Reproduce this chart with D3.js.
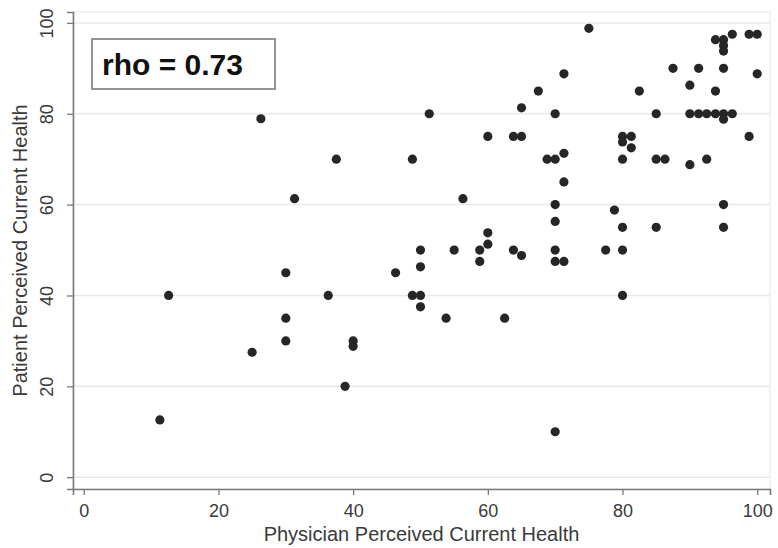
<!DOCTYPE html>
<html>
<head>
<meta charset="utf-8">
<script src="https://cdn.jsdelivr.net/npm/d3@7"></script>
<style>
  html, body { margin: 0; padding: 0; background: #fff; }
  svg { display: block; font-family: "Liberation Sans", Arial, Helvetica, sans-serif; }
</style>
</head>
<body>
<svg id="chart" width="778" height="548"></svg>
<script>
// Physician perceived current health (x) and patient perceived current health (y)
const physician = [
  11.3, 12.6, 25, 26.3, 30, 30, 30, 31.3, 36.3, 37.5,
  38.8, 40, 40, 46.3, 48.8, 48.8, 50, 50, 50, 50,
  51.3, 53.8, 55, 56.3, 58.8, 58.8, 60, 60, 60, 62.5,
  63.8, 65, 65, 63.8, 65, 67.5, 68.8, 70, 70, 71.3,
  71.3, 71.3, 70, 70, 70, 70, 71.3, 70, 75, 77.5,
  78.8, 80, 81.3, 80, 81.3, 80, 80, 80, 80, 82.5,
  85, 85, 86.3, 85, 87.5, 90, 90, 90, 91.3, 91.3,
  92.5, 92.5, 93.8, 93.8, 93.8, 95, 95, 95, 95, 95,
  95, 95, 95, 96.3, 96.3, 98.8, 100, 100, 98.8
];
const patient = [
  12.6, 40, 27.5, 78.9, 45, 35, 30, 61.3, 40, 70,
  20, 30, 28.8, 45, 70, 40, 40, 37.5, 46.3, 50,
  80, 35, 50, 61.3, 50, 47.5, 51.3, 53.8, 75, 35,
  75, 75, 81.3, 50, 48.8, 85, 70, 70, 80, 71.3,
  65, 88.8, 60, 56.3, 50, 47.5, 47.5, 10, 98.8, 50,
  58.8, 75, 75, 73.8, 72.5, 70, 55, 50, 40, 85,
  80, 70, 70, 55, 90, 86.3, 80, 68.8, 80, 90,
  80, 70, 85, 80, 96.3, 96.3, 95, 93.8, 90, 80,
  78.8, 60, 55, 97.5, 80, 97.5, 97.5, 88.8, 75
];
const xTicks = [0, 20, 40, 60, 80, 100];
const yTicks = [0, 20, 40, 60, 80, 100];
const xTitle = "Physician Perceived Current Health";
const yTitle = "Patient Perceived Current Health";
const rhoLabel = "rho = 0.73";

const points = physician.map((x, i) => ({ x, y: patient[i] }));

const svg = d3.select("#chart");
const plot = { left: 73, right: 770, top: 12, bottom: 489 };

const x = d3.scaleLinear().domain([-1.6, 101.9]).range([plot.left, plot.right]);
const y = d3.scaleLinear().domain([-2.6, 102.4]).range([plot.bottom, plot.top]);

// light frame of plot region
svg.append("rect")
  .attr("x", plot.left).attr("y", plot.top)
  .attr("width", plot.right - plot.left).attr("height", plot.bottom - plot.top)
  .attr("fill", "none").attr("stroke", "#eeeeee").attr("stroke-width", 1.5);

// horizontal grid
svg.append("g").selectAll("line").data(yTicks).join("line")
  .attr("x1", plot.left).attr("x2", plot.right)
  .attr("y1", d => y(d)).attr("y2", d => y(d))
  .attr("stroke", "#e9e9e9").attr("stroke-width", 1.5);

// axes
const xAxis = svg.append("g")
  .attr("transform", `translate(0,${plot.bottom})`)
  .call(d3.axisBottom(x).tickValues(xTicks).tickSizeOuter(0).tickSize(6).tickPadding(9).tickFormat(d3.format("d")));
const yAxis = svg.append("g")
  .attr("transform", `translate(${plot.left},0)`)
  .call(d3.axisLeft(y).tickValues(yTicks).tickSizeOuter(0).tickSize(6).tickPadding(0).tickFormat(d3.format("d")));

[xAxis, yAxis].forEach(g => {
  g.select(".domain").attr("stroke", "#7a7a7a").attr("stroke-width", 1.6);
  g.selectAll(".tick line").attr("stroke", "#7a7a7a").attr("stroke-width", 1.3);
  g.selectAll(".tick text").attr("fill", "#3a3a3a")
    .style("font-size", "18px").style("font-family", "'Liberation Sans', Arial, sans-serif");
});
xAxis.selectAll(".tick text").attr("dy", "0.71em");
yAxis.selectAll(".tick text")
  .attr("x", null).attr("dy", null)
  .attr("text-anchor", "middle")
  .attr("transform", "translate(-20,0) rotate(-90)")
  .attr("y", 0);

// axis titles
svg.append("text")
  .attr("x", (plot.left + plot.right) / 2).attr("y", 541)
  .attr("text-anchor", "middle").attr("fill", "#3a3a3a")
  .style("font-size", "20px")
  .text(xTitle);
svg.append("text")
  .attr("transform", `translate(27,${(plot.top + plot.bottom) / 2}) rotate(-90)`)
  .attr("text-anchor", "middle").attr("fill", "#3a3a3a")
  .style("font-size", "20px")
  .text(yTitle);

// points
svg.append("g").selectAll("circle").data(points).join("circle")
  .attr("cx", d => x(d.x)).attr("cy", d => y(d.y))
  .attr("r", 4.6).attr("fill", "#262626");

// rho box
svg.append("rect")
  .attr("x", 92).attr("y", 39).attr("width", 183).attr("height", 50)
  .attr("fill", "#fff").attr("stroke", "#7a7a7a").attr("stroke-width", 1.6);
svg.append("text")
  .attr("x", 102).attr("y", 75)
  .attr("fill", "#111").style("font-size", "30px").style("font-weight", "bold")
  .text(rhoLabel);
</script>
</body>
</html>
